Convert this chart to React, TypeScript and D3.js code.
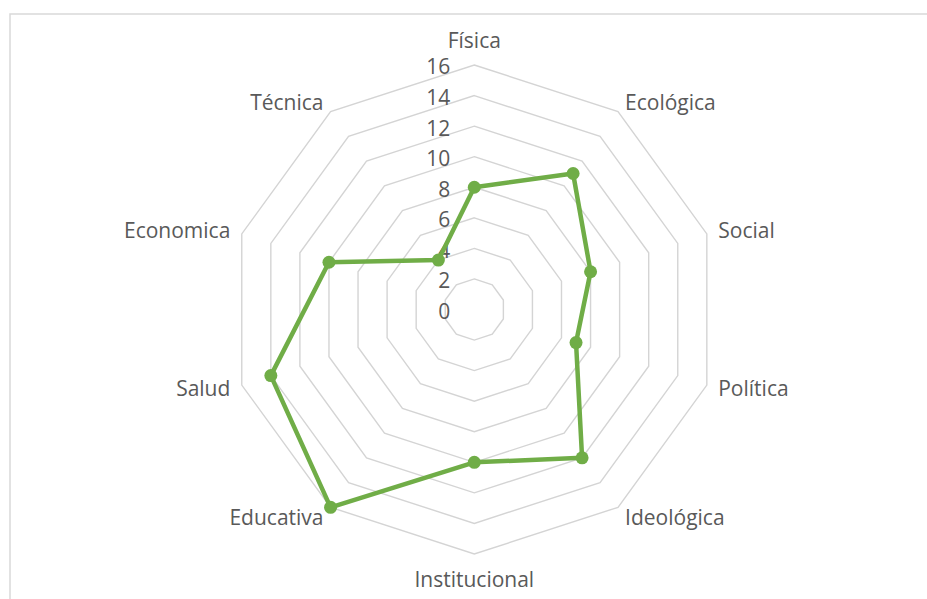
import { useEffect, useRef } from "react";
import * as d3 from "d3";

const categories = [
  "Física",
  "Ecológica",
  "Social",
  "Política",
  "Ideológica",
  "Institucional",
  "Educativa",
  "Salud",
  "Economica",
  "Técnica",
];

const values = [8, 11, 8, 7, 12, 10, 16, 14, 10, 4];

const ticks = [0, 2, 4, 6, 8, 10, 12, 14, 16];

const RadarChart = () => {
  const chartRef = useRef<HTMLDivElement>(null);

  useEffect(() => {
    if (!chartRef.current) return;
    const width = 927;
    const height = 599;
    const cx = 474.3;
    const cy = 309.5;
    const radius = 244.5;
    const font = "'Open Sans', sans-serif";
    const fontSize = 21;
    const textColor = "#595959";

    document.body.style.margin = "0";
    document.body.style.overflow = "hidden";

    // Clear the previous content of chartRef
    d3.select(chartRef.current).html("");

    const svg = d3
      .select(chartRef.current)
      .append("svg")
      .attr("width", width)
      .attr("height", height)
      .style("display", "block");

    svg.append("rect").attr("width", width).attr("height", height).attr("fill", "#fff");

    // chart frame
    svg
      .append("rect")
      .attr("x", 10)
      .attr("y", 14)
      .attr("width", width + 20)
      .attr("height", height + 20)
      .attr("fill", "none")
      .attr("stroke", "#d9d9d9")
      .attr("stroke-width", 1.5);

    const rScale = d3.scaleLinear().domain([0, 16]).range([0, radius]);
    const angle = d3
      .scaleLinear()
      .domain([0, categories.length])
      .range([0, 2 * Math.PI]);

    const point = (i: number, v: number): [number, number] => [
      cx + rScale(v) * Math.sin(angle(i)),
      cy - rScale(v) * Math.cos(angle(i)),
    ];

    // grid decagons
    const gridLine = d3.line<[number, number]>().curve(d3.curveLinearClosed);
    svg
      .append("g")
      .selectAll("path")
      .data(ticks.slice(1))
      .join("path")
      .attr("d", (t) => gridLine(categories.map((_, i) => point(i, t))))
      .attr("fill", "none")
      .attr("stroke", "#d4d4d4")
      .attr("stroke-width", 1.4);

    // value axis labels
    svg
      .append("g")
      .selectAll("text")
      .data(ticks)
      .join("text")
      .attr("x", cx - 24)
      .attr("y", (t) => cy - rScale(t))
      .attr("dy", "0.45em")
      .attr("text-anchor", "end")
      .attr("font-family", font)
      .attr("font-size", fontSize)
      .attr("fill", textColor)
      .text((t) => t);

    // category labels
    svg
      .append("g")
      .selectAll("text")
      .data(categories)
      .join("text")
      .each(function (d, i) {
        const s = Math.sin(angle(i));
        const c = Math.cos(angle(i));
        const off = Math.abs(s) < 0.01 ? 25 : 12;
        const [vx, vy] = point(i, 16);
        d3.select(this)
          .attr("x", vx + s * off)
          .attr("y", vy - c * off)
          .attr("text-anchor", Math.abs(s) < 0.01 ? "middle" : s > 0 ? "start" : "end");
      })
      .attr("dy", "0.36em")
      .attr("font-family", font)
      .attr("font-size", fontSize)
      .attr("fill", textColor)
      .text((d) => d);

    // series line
    const data = values.map((v, i) => point(i, v));
    svg
      .append("path")
      .datum(data)
      .attr("d", gridLine)
      .attr("fill", "none")
      .attr("stroke", "#70ad47")
      .attr("stroke-width", 4.5)
      .attr("stroke-linejoin", "round");

    svg
      .append("g")
      .selectAll("circle")
      .data(data)
      .join("circle")
      .attr("cx", (d) => d[0])
      .attr("cy", (d) => d[1])
      .attr("r", 6.5)
      .attr("fill", "#70ad47");
  }, []);

  return <div ref={chartRef} className="radar-chart"></div>;
};

export default function App() {
  return <RadarChart />;
}
